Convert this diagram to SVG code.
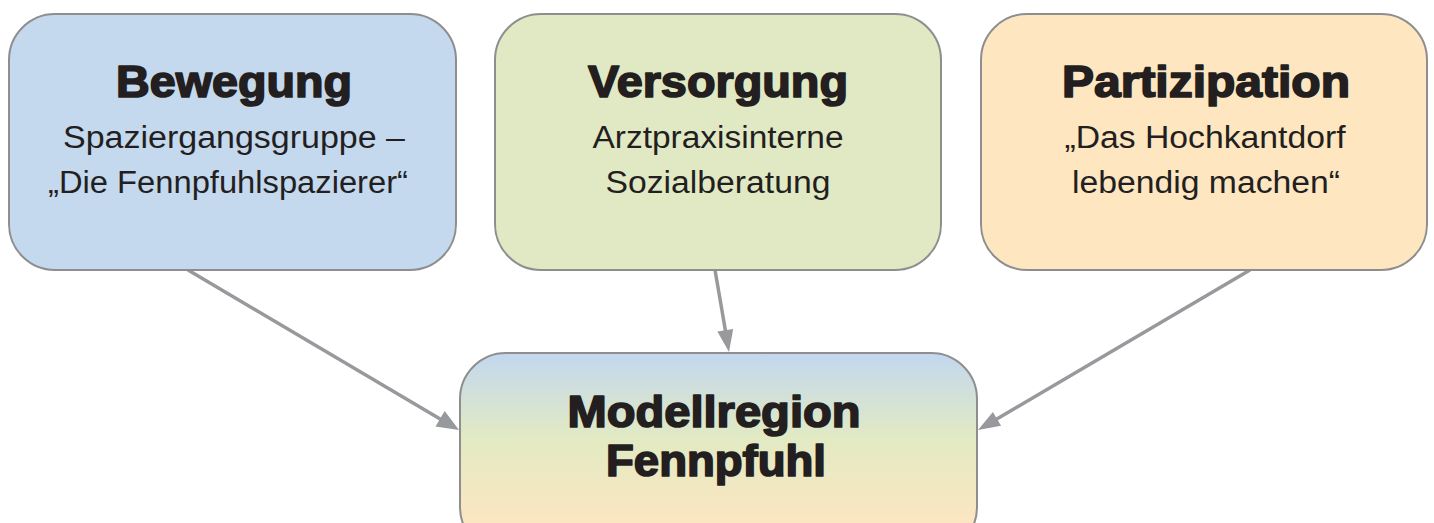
<svg xmlns="http://www.w3.org/2000/svg" width="1434" height="523" viewBox="0 0 1434 523">
<style>
.box{stroke:#8e8e8e;stroke-width:2}
.title{font-family:"Liberation Sans",Arial,sans-serif;font-weight:bold;font-size:44px;fill:#231f20;stroke:#231f20;stroke-width:1.7;stroke-linejoin:round;text-anchor:middle}
.sub{font-family:"Liberation Sans",Arial,sans-serif;font-size:31px;fill:#231f20;text-anchor:middle}
.conn{stroke:#98999c;stroke-width:3.5;fill:none}
.head{fill:#98999c}
</style>
<defs>
<linearGradient id="grad" gradientUnits="userSpaceOnUse" x1="0" y1="353" x2="0" y2="523">
<stop offset="0" stop-color="#c2d7ef"/>
<stop offset="0.5" stop-color="#e2eac3"/>
<stop offset="1" stop-color="#fce6c1"/>
</linearGradient>
</defs>
<g id="connectors">
<line class="conn" x1="188" y1="270" x2="441" y2="419.5"/>
<polygon class="head" points="459,430 444.7,411 435.5,426.6"/>
<line class="conn" x1="715" y1="270" x2="725.5" y2="331"/>
<polygon class="head" points="729,352 717.4,331.6 733.2,329"/>
<line class="conn" x1="1250" y1="270" x2="996" y2="419.5"/>
<polygon class="head" points="978,430 992.9,411.9 1001.1,425.7"/>
</g>
<g id="bewegung">
<rect class="box" x="9" y="14" width="447" height="256" rx="46" fill="#c4d8ee"/>
<text class="title" x="234" y="97" textLength="236" lengthAdjust="spacingAndGlyphs">Bewegung</text>
<text class="sub" x="234" y="148" textLength="342" lengthAdjust="spacingAndGlyphs">Spaziergangsgruppe –</text>
<text class="sub" x="228" y="193" textLength="360" lengthAdjust="spacingAndGlyphs">„Die Fennpfuhlspazierer“</text>
</g>
<g id="versorgung">
<rect class="box" x="495" y="14" width="446" height="256" rx="46" fill="#e1e9c4"/>
<text class="title" x="718" y="97" textLength="260" lengthAdjust="spacingAndGlyphs">Versorgung</text>
<text class="sub" x="718" y="148" textLength="251" lengthAdjust="spacingAndGlyphs">Arztpraxisinterne</text>
<text class="sub" x="718" y="193" textLength="225" lengthAdjust="spacingAndGlyphs">Sozialberatung</text>
</g>
<g id="partizipation">
<rect class="box" x="981" y="14" width="446" height="256" rx="46" fill="#fde6c0"/>
<text class="title" x="1206" y="97" textLength="288" lengthAdjust="spacingAndGlyphs">Partizipation</text>
<text class="sub" x="1205" y="148" textLength="281" lengthAdjust="spacingAndGlyphs">„Das Hochkantdorf</text>
<text class="sub" x="1206" y="193" textLength="268" lengthAdjust="spacingAndGlyphs">lebendig machen“</text>
</g>
<g id="modellregion">
<rect class="box" x="460" y="353" width="517" height="200" rx="46" fill="url(#grad)"/>
<text class="title" x="714" y="427" textLength="293" lengthAdjust="spacingAndGlyphs">Modellregion</text>
<text class="title" x="716" y="476" textLength="220" lengthAdjust="spacingAndGlyphs">Fennpfuhl</text>
</g>
</svg>
